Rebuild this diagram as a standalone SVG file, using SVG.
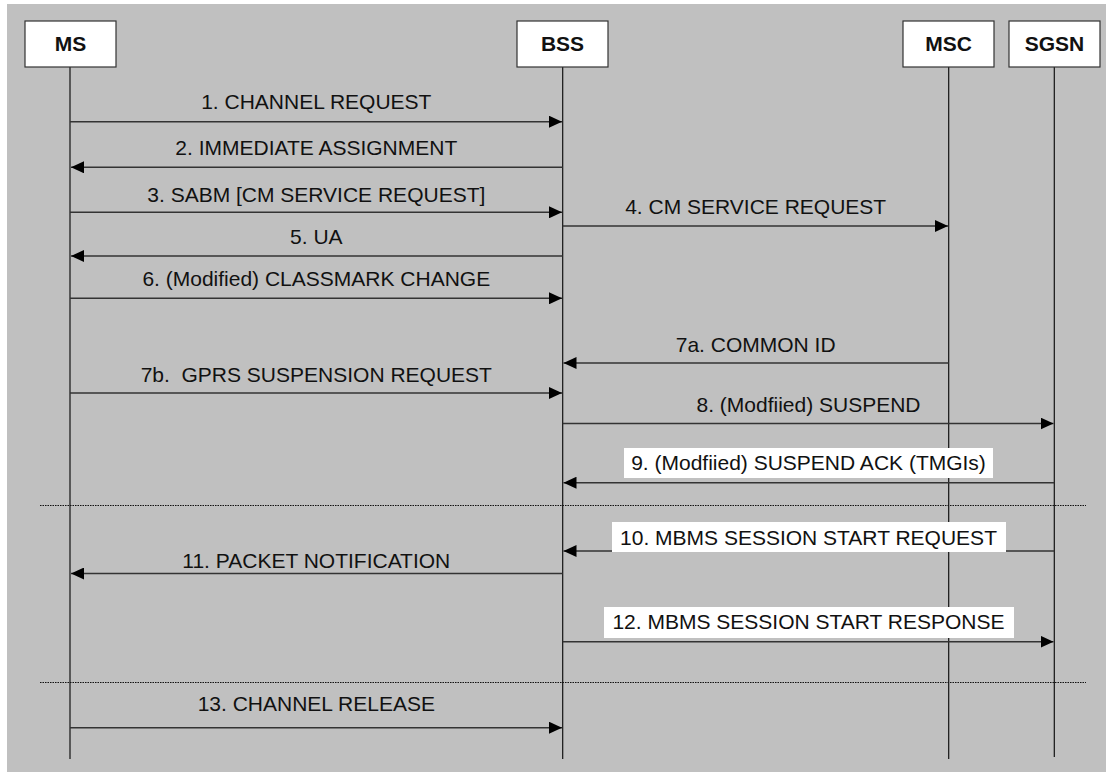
<svg xmlns="http://www.w3.org/2000/svg" width="1106" height="773" viewBox="0 0 1106 773">
  <style>
    .entity rect { fill: #ffffff; stroke: #333333; stroke-width: 1.2; }
    .entity text { font-family: "Liberation Sans", Arial, sans-serif; font-size: 21px; font-weight: bold; fill: #111111; text-anchor: middle; }
    .life { stroke: #111111; stroke-width: 1.2; }
    .msg { stroke: #333333; stroke-width: 1.4; fill: none; marker-end: url(#head); }
    .lbl { font-family: "Liberation Sans", Arial, sans-serif; font-size: 21px; fill: #111111; text-anchor: middle; white-space: pre; }
    .lblbg { fill: #ffffff; stroke: none; }
    .sep { stroke: #111111; stroke-width: 1; stroke-dasharray: 1.5 1; }
  </style>
  <defs>
    <marker id="head" markerUnits="userSpaceOnUse" markerWidth="14" markerHeight="12" refX="13" refY="6" orient="auto">
      <path d="M0,0 L13,6 L0,12 Z" fill="#000000"/>
    </marker>
  </defs>

  <!-- canvas -->
  <rect x="7" y="4" width="1099" height="768" fill="#c0c0c0"/>

  <!-- lifelines -->
  <g id="lifelines">
    <line class="life" x1="70" y1="67" x2="70" y2="759"/>
    <line class="life" x1="562.7" y1="67" x2="562.7" y2="759"/>
    <line class="life" x1="948.7" y1="67" x2="948.7" y2="759"/>
    <line class="life" x1="1054.3" y1="67" x2="1054.3" y2="757"/>
  </g>

  <!-- entities -->
  <g id="ms" class="entity">
    <rect x="25" y="21" width="91" height="46"/>
    <text x="70.5" y="51">MS</text>
  </g>
  <g id="bss" class="entity">
    <rect x="517" y="21" width="91" height="46"/>
    <text x="562.5" y="51">BSS</text>
  </g>
  <g id="msc" class="entity">
    <rect x="903" y="21" width="91" height="46"/>
    <text x="948.5" y="51">MSC</text>
  </g>
  <g id="sgsn" class="entity">
    <rect x="1009" y="21" width="91" height="46"/>
    <text x="1054.5" y="51">SGSN</text>
  </g>

  <!-- phase separators -->
  <g id="separators">
    <line class="sep" x1="40" y1="505.5" x2="1086" y2="505.5"/>
    <line class="sep" x1="40" y1="682.5" x2="1086" y2="682.5"/>
  </g>

  <!-- messages -->
  <g id="connectors">
    <line class="msg" x1="70" y1="121.7" x2="562" y2="121.7"/>
    <line class="msg" x1="562.7" y1="167.3" x2="71" y2="167.3"/>
    <line class="msg" x1="70" y1="212.3" x2="562" y2="212.3"/>
    <line class="msg" x1="562.7" y1="226" x2="948" y2="226"/>
    <line class="msg" x1="562.7" y1="256" x2="71" y2="256"/>
    <line class="msg" x1="70" y1="298.3" x2="562" y2="298.3"/>
    <line class="msg" x1="948.7" y1="363" x2="563.5" y2="363"/>
    <line class="msg" x1="70" y1="393" x2="562" y2="393"/>
    <line class="msg" x1="562.7" y1="423.5" x2="1053.5" y2="423.5"/>
    <line class="msg" x1="1054.3" y1="482.7" x2="563.5" y2="482.7"/>
    <line class="msg" x1="1054.3" y1="551" x2="563.5" y2="551"/>
    <line class="msg" x1="562.7" y1="573.5" x2="71" y2="573.5"/>
    <line class="msg" x1="562.7" y1="641.7" x2="1053.5" y2="641.7"/>
    <line class="msg" x1="70" y1="727.7" x2="562" y2="727.7"/>
  </g>

  <!-- message labels -->
  <g id="labels">
    <text class="lbl" x="316.3" y="109.3">1. CHANNEL REQUEST</text>
    <text class="lbl" x="316.3" y="154.7">2. IMMEDIATE ASSIGNMENT</text>
    <text class="lbl" x="316.3" y="201.7">3. SABM [CM SERVICE REQUEST]</text>
    <text class="lbl" x="755.7" y="213.7">4. CM SERVICE REQUEST</text>
    <text class="lbl" x="316.3" y="244">5. UA</text>
    <text class="lbl" x="316.3" y="286">6. (Modified) CLASSMARK CHANGE</text>
    <text class="lbl" x="755.7" y="352">7a. COMMON ID</text>
    <text class="lbl" x="316.3" y="381.5">7b.  GPRS SUSPENSION REQUEST</text>
    <text class="lbl" x="808.5" y="412">8. (Modfiied) SUSPEND</text>
    <rect class="lblbg" x="624" y="448" width="369" height="30"/>
    <text class="lbl" x="808.5" y="470">9. (Modfiied) SUSPEND ACK (TMGIs)</text>
    <rect class="lblbg" x="612" y="522" width="394" height="30"/>
    <text class="lbl" x="808.5" y="544.5">10. MBMS SESSION START REQUEST</text>
    <text class="lbl" x="316.3" y="568">11. PACKET NOTIFICATION</text>
    <rect class="lblbg" x="604" y="607" width="410" height="31"/>
    <text class="lbl" x="808.5" y="628.5">12. MBMS SESSION START RESPONSE</text>
    <text class="lbl" x="316.3" y="711">13. CHANNEL RELEASE</text>
  </g>
</svg>
